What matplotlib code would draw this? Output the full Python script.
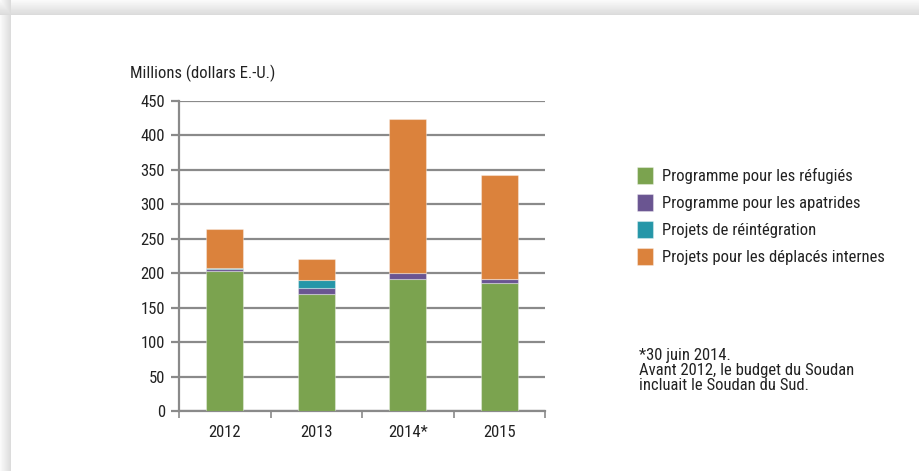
import numpy as np
import matplotlib
matplotlib.use("Agg")
import matplotlib.pyplot as plt

plt.rcParams['font.family'] = ['Roboto Condensed', 'DejaVu Sans']

years = ["2012", "2013", "2014*", "2015"]
refugies = [203, 170, 191.6, 185.3]
apatrides = [2.5, 8.7, 8.7, 6.3]
reintegration = [2.3, 11.2, 0, 0]
deplaces = [57, 30.5, 223.5, 151]
series_labels = ["Programme pour les réfugiés", "Programme pour les apatrides",
                 "Projets de réintégration", "Projets pour les déplacés internes"]
colors = ["#7ba34f", "#6a5591", "#2596a8", "#db823c"]
yticks = [0, 50, 100, 150, 200, 250, 300, 350, 400, 450]

W, H = 919, 471
FS = 12
TC = "#222222"
fig = plt.figure(figsize=(W/100, H/100), dpi=100)

# background with soft shadow
bg = fig.add_axes([0, 0, 1, 1])
px0, py0 = 11, 15
yy, xx = np.mgrid[0:H, 0:W]
d_top = np.where(yy < py0, 0.85 + 0.13 * (1 - (yy / py0)), 1.0)
d_left = np.where(xx < px0, 0.85 + 0.13 * (1 - (xx / px0)), 1.0)
img = np.minimum(d_top, d_left)
bg.imshow(img, cmap="gray", vmin=0, vmax=1, aspect="auto", extent=[0, W, H, 0])
bg.set_xlim(0, W); bg.set_ylim(H, 0)
bg.axis("off")

ax = fig.add_axes([179/W, 1 - 411/H, (545-179)/W, (411-101)/H])
x = np.arange(len(years))
bottom = np.zeros(len(years))
handles = []
for vals, c, lab in zip([refugies, apatrides, reintegration, deplaces], colors, series_labels):
    h = ax.bar(x, vals, width=0.4, bottom=bottom, color=c, edgecolor=(1, 1, 1, 0.35),
               linewidth=0.8, label=lab, zorder=3)
    handles.append(h)
    bottom += np.array(vals)

ax.set_xlim(-0.5, 3.5)
ax.set_ylim(0, 450)
ax.set_yticks(yticks)
ax.yaxis.grid(True, color="#8a8a8a", linewidth=1.6, zorder=0)
ax.set_axisbelow(True)
for s in ["top", "right"]:
    ax.spines[s].set_visible(False)
ax.spines["left"].set_color("#8a8a8a")
ax.spines["left"].set_linewidth(1.6)
ax.spines["bottom"].set_color("#8a8a8a")
ax.spines["bottom"].set_linewidth(1.6)
ax.tick_params(axis="y", length=6, width=1.6, color="#8a8a8a", labelsize=FS,
               labelcolor=TC, pad=4)
ax.set_xticks(x)
ax.set_xticklabels(years)
ax.set_xticks([-0.5, 0.5, 1.5, 2.5, 3.5], minor=True)
ax.tick_params(axis="x", which="major", length=0, labelsize=FS, labelcolor=TC, pad=10)
ax.tick_params(axis="x", which="minor", length=5, width=1.2, color="#8a8a8a")

fig.text(130/W, 1 - 73/H, "Millions (dollars E.-U.)", fontsize=FS, color=TC,
         ha="left", va="center")

leg = fig.legend(handles=handles, labels=series_labels, loc="upper left",
                 bbox_to_anchor=(630/W, 1 - 160/H), frameon=False, fontsize=FS,
                 handlelength=0.95, handleheight=1.2, handletextpad=0.55, labelspacing=0.6,
                 borderaxespad=0, labelcolor=TC)

fig.text(639/W, 1 - 348/H, "*30 juin 2014.\nAvant 2012, le budget du Soudan\nincluait le Soudan du Sud.",
         fontsize=FS, color=TC, ha="left", va="top", linespacing=1.0)

fig.savefig("out.png", dpi=100)
